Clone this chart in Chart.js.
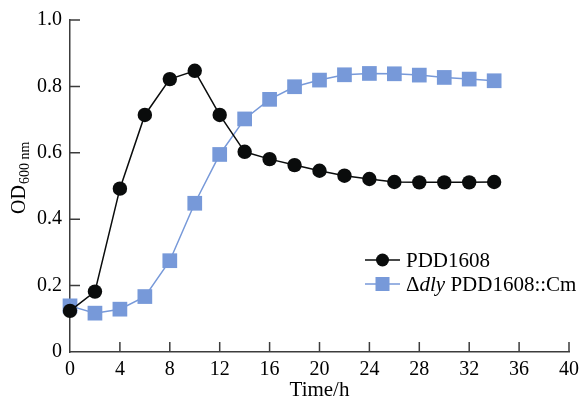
<!DOCTYPE html>
<html>
<head>
<meta charset="utf-8">
<script src="https://cdn.jsdelivr.net/npm/chart.js@4.4.0/dist/chart.umd.min.js"></script>
<style>
  html, body { margin: 0; padding: 0; background: #ffffff; }
  #wrap { width: 585px; height: 398px; position: relative; }
</style>
</head>
<body>
<div id="wrap"><canvas id="c" width="585" height="398"></canvas></div>
<script>
// ---- data ----
const timeHours = [0, 2, 4, 6, 8, 10, 12, 14, 16, 18, 20, 22, 24, 26, 28, 30, 32, 34];
const wildTypeOD = [0.124, 0.182, 0.492, 0.714, 0.822, 0.847, 0.714, 0.603, 0.581, 0.563, 0.546, 0.531, 0.521, 0.512, 0.511, 0.511, 0.511, 0.512];
const mutantOD = [0.139, 0.117, 0.129, 0.167, 0.275, 0.448, 0.595, 0.702, 0.761, 0.799, 0.819, 0.835, 0.839, 0.838, 0.834, 0.827, 0.822, 0.817];
const xTickValues = [0, 4, 8, 12, 16, 20, 24, 28, 32, 36, 40];
const yTickValues = [0, 0.2, 0.4, 0.6, 0.8, 1.0];
const seriesNames = ['PDD1608', 'Δdly PDD1608::Cm'];

const BLACK = '#0a0c0c';
const BLUE = '#7799d9';
const AXIS = '#3c3c3c';
const SERIF = '"Liberation Serif", "Times New Roman", serif';

const toPoints = (xs, ys) => xs.map((x, i) => ({ x: x, y: ys[i] }));

// inward tick marks, axis title with subscript, and legend
const decorPlugin = {
  id: 'decor',
  afterDraw(chart) {
    const ctx = chart.ctx;
    const xs = chart.scales.x, ys = chart.scales.y;
    const area = chart.chartArea;
    ctx.save();
    ctx.strokeStyle = AXIS;
    ctx.lineWidth = 1.5;
    ctx.beginPath();
    xTickValues.forEach(v => {
      if (v === 0) return;
      const px = xs.getPixelForValue(v);
      ctx.moveTo(px, area.bottom);
      ctx.lineTo(px, area.bottom - 10);
    });
    yTickValues.forEach(v => {
      if (v === 0) return;
      const py = ys.getPixelForValue(v);
      ctx.moveTo(area.left, py);
      ctx.lineTo(area.left + 10, py);
    });
    ctx.stroke();

    // y title OD_600 nm
    ctx.fillStyle = '#000';
    ctx.translate(25, 214);
    ctx.rotate(-Math.PI / 2);
    ctx.textAlign = 'left';
    ctx.textBaseline = 'alphabetic';
    ctx.font = '20px ' + SERIF;
    ctx.fillText('OD', 0, 0);
    const w = ctx.measureText('OD').width;
    ctx.font = '14px ' + SERIF;
    ctx.fillText('600 nm', w + 1, 4);
    ctx.restore();

    // legend
    ctx.save();
    const lx0 = 365, lx1 = 400, lcx = 382.5, tx = 406;
    const rows = [260, 284];
    ctx.lineWidth = 1.5;
    // row 1
    ctx.strokeStyle = BLACK;
    ctx.beginPath(); ctx.moveTo(lx0, rows[0]); ctx.lineTo(lx1, rows[0]); ctx.stroke();
    ctx.fillStyle = BLACK;
    ctx.beginPath(); ctx.arc(lcx, rows[0], 6.5, 0, Math.PI * 2); ctx.fill();
    // row 2
    ctx.strokeStyle = BLUE;
    ctx.beginPath(); ctx.moveTo(lx0, rows[1]); ctx.lineTo(lx1, rows[1]); ctx.stroke();
    ctx.fillStyle = BLUE;
    ctx.fillRect(lcx - 7, rows[1] - 7, 14, 14);

    ctx.fillStyle = '#000';
    ctx.textAlign = 'left';
    ctx.textBaseline = 'middle';
    ctx.font = '21px ' + SERIF;
    ctx.fillText(seriesNames[0], tx, rows[0] + 1);
    // Δ + italic dly + rest
    let x = tx;
    ctx.fillText('Δ', x, rows[1] + 1);
    x += ctx.measureText('Δ').width;
    ctx.font = 'italic 21px ' + SERIF;
    ctx.fillText('dly', x, rows[1] + 1);
    x += ctx.measureText('dly').width;
    ctx.font = '21px ' + SERIF;
    ctx.fillText(' PDD1608::Cm', x, rows[1] + 1);
    ctx.restore();
  }
};

new Chart(document.getElementById('c'), {
  type: 'line',
  data: {
    datasets: [
      {
        label: seriesNames[0],
        data: toPoints(timeHours, wildTypeOD),
        borderColor: BLACK,
        backgroundColor: BLACK,
        borderWidth: 1.5,
        pointStyle: 'circle',
        pointRadius: 7.2,
        pointBorderWidth: 0,
        pointBackgroundColor: BLACK,
        tension: 0,
        clip: false
      },
      {
        label: seriesNames[1],
        data: toPoints(timeHours, mutantOD),
        borderColor: BLUE,
        backgroundColor: BLUE,
        borderWidth: 1.5,
        pointStyle: 'rect',
        pointRadius: 10.4,
        pointBorderWidth: 0,
        pointBackgroundColor: BLUE,
        tension: 0,
        clip: false
      }
    ]
  },
  options: {
    responsive: false,
    animation: false,
    devicePixelRatio: 1,
    layout: { padding: { top: 20, right: 15, left: 0, bottom: 0 } },
    plugins: { legend: { display: false }, tooltip: { enabled: false } },
    scales: {
      x: {
        type: 'linear',
        min: 0, max: 40,
        afterBuildTicks: s => { s.ticks = xTickValues.map(v => ({ value: v })); },
        afterFit: s => { s.height = 46; },
        grid: { display: false, drawTicks: false },
        border: { display: true, color: AXIS, width: 1.5 },
        ticks: {
          color: '#000',
          padding: 6,
          maxRotation: 0,
          font: { family: SERIF, size: 20 },
          callback: v => String(v)
        },
        title: {
          display: true,
          text: 'Time/h',
          color: '#000',
          font: { family: SERIF, size: 21, lineHeight: 0.76 },
          padding: { top: 0, bottom: 0 }
        }
      },
      y: {
        type: 'linear',
        min: 0, max: 1,
        afterBuildTicks: s => { s.ticks = yTickValues.map(v => ({ value: v })); },
        afterFit: s => { s.width = 70; },
        grid: { display: false, drawTicks: false },
        border: { display: true, color: AXIS, width: 1.5 },
        ticks: {
          color: '#000',
          padding: 8,
          font: { family: SERIF, size: 20 },
          callback: v => (v === 0 ? '0' : v.toFixed(1))
        }
      }
    }
  },
  plugins: [decorPlugin]
});
</script>
</body>
</html>
